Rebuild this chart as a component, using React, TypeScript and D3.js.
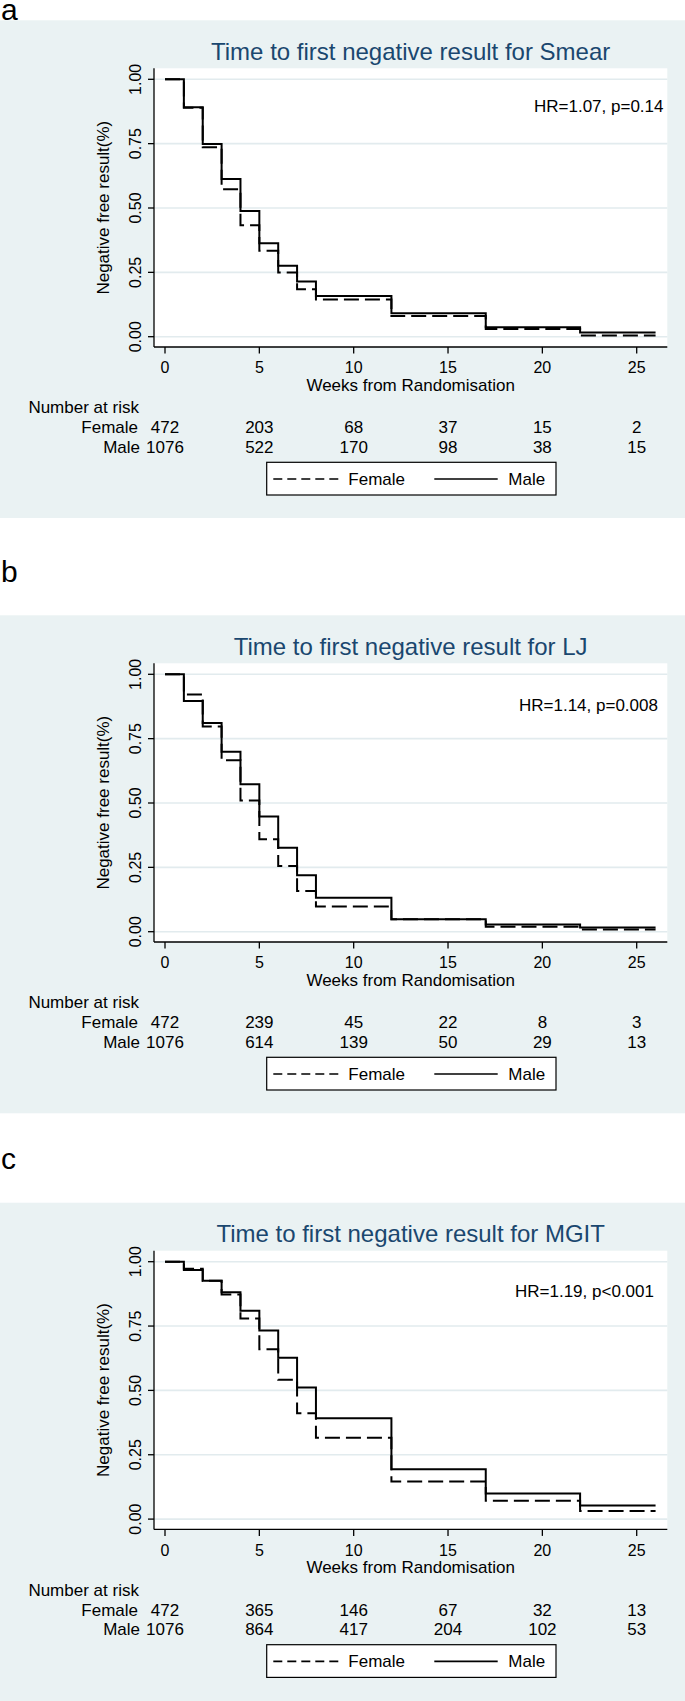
import React from "react";
import * as d3 from "d3";

// ---------- data ----------
const stepWeeks = [0, 1, 2, 3, 4, 5, 6, 7, 8, 12, 17, 22, 26];
const xTicks = [0, 5, 10, 15, 20, 25];
const yTicks = [0, 0.25, 0.5, 0.75, 1];
const yTickLabels = ["0.00", "0.25", "0.50", "0.75", "1.00"];
const riskWeeks = [0, 5, 10, 15, 20, 25];

const smearFemale = [1.0, 0.889, 0.736, 0.573, 0.433, 0.334, 0.249, 0.184, 0.145, 0.08, 0.03, 0.005];
const smearMale = [1.0, 0.891, 0.749, 0.613, 0.488, 0.363, 0.276, 0.214, 0.158, 0.091, 0.037, 0.016];
const ljFemale = [1.0, 0.922, 0.797, 0.666, 0.51, 0.359, 0.255, 0.158, 0.098, 0.048, 0.019, 0.009];
const ljMale = [1.0, 0.896, 0.811, 0.699, 0.573, 0.448, 0.326, 0.219, 0.132, 0.048, 0.028, 0.016];
const mgitFemale = [1.0, 0.973, 0.926, 0.873, 0.779, 0.66, 0.541, 0.411, 0.316, 0.146, 0.071, 0.031];
const mgitMale = [1.0, 0.968, 0.926, 0.881, 0.809, 0.733, 0.627, 0.511, 0.392, 0.194, 0.099, 0.053];

const smearFemaleRisk = [472, 203, 68, 37, 15, 2];
const smearMaleRisk = [1076, 522, 170, 98, 38, 15];
const ljFemaleRisk = [472, 239, 45, 22, 8, 3];
const ljMaleRisk = [1076, 614, 139, 50, 29, 13];
const mgitFemaleRisk = [472, 365, 146, 67, 32, 13];
const mgitMaleRisk = [1076, 864, 417, 204, 102, 53];

const panelLetters = ["a", "b", "c"];
const panelTitles = [
  "Time to first negative result for Smear",
  "Time to first negative result for LJ",
  "Time to first negative result for MGIT",
];
const hrTexts = ["HR=1.07, p=0.14", "HR=1.14, p=0.008", "HR=1.19, p<0.001"];
const seriesNames = ["Female", "Male"];

// ---------- layout ----------
const W = 685;
const H = 1701;
const FONT = "'Liberation Sans', Arial, Helvetica, sans-serif";
const BG = "#eaf2f3";
const GRID = "#e2ebee";
const TITLE_COLOR = "#1a476f";

const panelAnchor = [79.3, 674.3, 1261.7]; // y of 1.00 line
const letterBaseline = [19.5, 582, 1169];
const hrStartX = [534, 519, 515];
const hrBaselineOffset = [33, 36.4, 35];
const panelBottom = [518, 1113.3, 1701];

const plotLeft = 154;
const plotRight = 667.3;
const xScale = d3.scaleLinear().domain([0, 25]).range([165, 636.7]);

function Panel({ idx, female, male, femaleRisk, maleRisk }) {
  const a = panelAnchor[idx];
  const y = d3.scaleLinear().domain([0, 1]).range([a + 257.4, a]);
  const pts = (vals) => stepWeeks.map((t, i) => [t, vals[Math.min(i, vals.length - 1)]]);
  const line = d3
    .line()
    .x((d) => xScale(d[0]))
    .y((d) => y(d[1]))
    .curve(d3.curveStepAfter);
  const plotTop = a - 11;
  const axisY = a + 267.7;
  const plotCenter = (plotLeft + plotRight) / 2;
  return (
    <g>
      <rect x={0} y={a - 59} width={W} height={panelBottom[idx] - (a - 59)} fill={BG} />
      <text x={1} y={letterBaseline[idx]} fontSize={30} fontFamily={FONT} fill="#000">
        {panelLetters[idx]}
      </text>
      <text
        x={plotCenter}
        y={a - 19.3}
        fontSize={24}
        fontFamily={FONT}
        fill={TITLE_COLOR}
        textAnchor="middle"
      >
        {panelTitles[idx]}
      </text>
      <rect x={plotLeft} y={plotTop} width={plotRight - plotLeft} height={axisY - plotTop} fill="#fff" />
      {yTicks.map((t) => (
        <line key={"g" + t} x1={plotLeft} x2={plotRight} y1={y(t)} y2={y(t)} stroke={GRID} strokeWidth={1.6} />
      ))}
      {/* axes */}
      <line x1={plotLeft} x2={plotLeft} y1={plotTop} y2={axisY} stroke="#000" strokeWidth={1.3} />
      <line x1={plotLeft} x2={plotRight} y1={axisY} y2={axisY} stroke="#000" strokeWidth={1.3} />
      {yTicks.map((t, i) => (
        <g key={"yt" + t}>
          <line x1={plotLeft - 6} x2={plotLeft} y1={y(t)} y2={y(t)} stroke="#000" strokeWidth={1.3} />
          <text
            x={140.7}
            y={y(t)}
            transform={`rotate(-90, 140.7, ${y(t)})`}
            fontSize={16}
            fontFamily={FONT}
            textAnchor="middle"
            fill="#000"
          >
            {yTickLabels[i]}
          </text>
        </g>
      ))}
      <text
        x={109}
        y={(plotTop + axisY) / 2}
        transform={`rotate(-90, 109, ${(plotTop + axisY) / 2})`}
        fontSize={17}
        fontFamily={FONT}
        textAnchor="middle"
        fill="#000"
      >
        Negative free result(%)
      </text>
      {xTicks.map((t) => (
        <g key={"xt" + t}>
          <line x1={xScale(t)} x2={xScale(t)} y1={axisY} y2={axisY + 6.5} stroke="#000" strokeWidth={1.3} />
          <text x={xScale(t)} y={a + 294} fontSize={16} fontFamily={FONT} textAnchor="middle" fill="#000">
            {t}
          </text>
        </g>
      ))}
      <text x={plotCenter} y={a + 311.7} fontSize={17} fontFamily={FONT} textAnchor="middle" fill="#000">
        Weeks from Randomisation
      </text>
      {/* curves */}
      <path d={line(pts(female))} fill="none" stroke="#000" strokeWidth={2} strokeDasharray="15 6" />
      <path d={line(pts(male))} fill="none" stroke="#000" strokeWidth={2} />
      <text x={hrStartX[idx]} y={y(1) + hrBaselineOffset[idx]} fontSize={17} fontFamily={FONT} fill="#000">
        {hrTexts[idx]}
      </text>
      {/* risk table */}
      <text x={28.4} y={a + 334} fontSize={17} fontFamily={FONT} fill="#000">
        Number at risk
      </text>
      <text x={138} y={a + 354} fontSize={17} fontFamily={FONT} textAnchor="end" fill="#000">
        {seriesNames[0]}
      </text>
      <text x={140} y={a + 373.4} fontSize={17} fontFamily={FONT} textAnchor="end" fill="#000">
        {seriesNames[1]}
      </text>
      {riskWeeks.map((w, i) => (
        <g key={"r" + w}>
          <text x={xScale(w)} y={a + 354} fontSize={17} fontFamily={FONT} textAnchor="middle" fill="#000">
            {femaleRisk[i]}
          </text>
          <text x={xScale(w)} y={a + 373.4} fontSize={17} fontFamily={FONT} textAnchor="middle" fill="#000">
            {maleRisk[i]}
          </text>
        </g>
      ))}
      {/* legend */}
      <rect x={266.7} y={a + 383} width={556 - 266.7} height={32.7} fill="#fff" stroke="#000" strokeWidth={1.2} />
      <line x1={273.3} x2={338.3} y1={a + 399.7} y2={a + 399.7} stroke="#000" strokeWidth={1.6} strokeDasharray="9 5" />
      <text x={348.3} y={a + 405.7} fontSize={17} fontFamily={FONT} fill="#000">
        {seriesNames[0]}
      </text>
      <line x1={434.3} x2={497.7} y1={a + 399.7} y2={a + 399.7} stroke="#000" strokeWidth={1.6} />
      <text x={508.3} y={a + 405.7} fontSize={17} fontFamily={FONT} fill="#000">
        {seriesNames[1]}
      </text>
    </g>
  );
}

export default function App() {
  React.useEffect(() => {
    document.body.style.margin = "0";
  }, []);
  return (
    <svg
      width={W}
      height={H}
      viewBox={`0 0 ${W} ${H}`}
      style={{ position: "absolute", left: 0, top: 0, display: "block", background: "#fff" }}
    >
      <Panel idx={0} female={smearFemale} male={smearMale} femaleRisk={smearFemaleRisk} maleRisk={smearMaleRisk} />
      <Panel idx={1} female={ljFemale} male={ljMale} femaleRisk={ljFemaleRisk} maleRisk={ljMaleRisk} />
      <Panel idx={2} female={mgitFemale} male={mgitMale} femaleRisk={mgitFemaleRisk} maleRisk={mgitMaleRisk} />
    </svg>
  );
}
